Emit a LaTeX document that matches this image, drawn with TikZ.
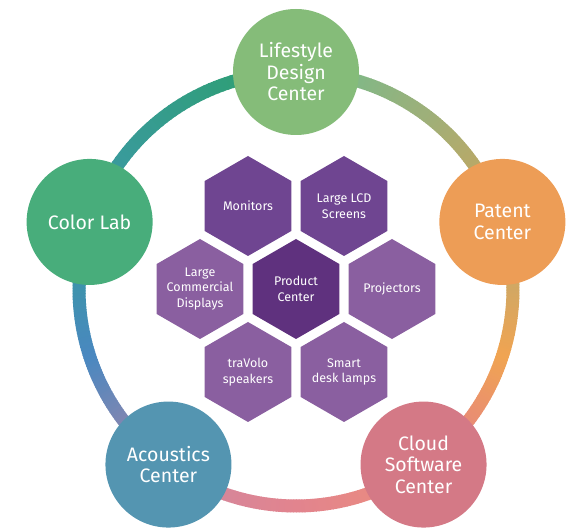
\documentclass[tikz,border=0pt]{standalone}
\usepackage{fontspec}
\setmainfont{Fira Sans}
\usepackage{tikz}
\usetikzlibrary{shapes}
\definecolor{lifegreen}{HTML}{85BC79}
\definecolor{patorange}{HTML}{ED9D56}
\definecolor{cloudpink}{HTML}{D47986}
\definecolor{acoblue}{HTML}{5495B1}
\definecolor{labgreen}{HTML}{48AD7B}
\definecolor{hexdark}{HTML}{6F4591}
\definecolor{hexcore}{HTML}{5F317E}
\definecolor{hexlight}{HTML}{8A5FA0}
% ring colours
\definecolor{rpat}{HTML}{BBA866}
\definecolor{rpatlife}{HTML}{9DB07A}
\definecolor{rlifeR}{HTML}{80B887}
\definecolor{rlifeL}{HTML}{2F9E78}
\definecolor{rlabU}{HTML}{3A9A9E}
\definecolor{rlabD}{HTML}{3C94AA}
\definecolor{rlabaco}{HTML}{4A88C0}
\definecolor{racoL}{HTML}{8486B0}
\definecolor{racoR}{HTML}{D6869A}
\definecolor{racocloud}{HTML}{E2848E}
\definecolor{rcloudL}{HTML}{E98A82}
\definecolor{rcloudU}{HTML}{E88A78}
\definecolor{rcloudpat}{HTML}{F0A452}
\definecolor{rpatD}{HTML}{CDA866}
\tikzstyle{centre}=[circle,minimum size=126pt,inner sep=0pt,text=white,align=center,font=\fontsize{19.5}{21.5}\selectfont]
\tikzstyle{hexa}=[regular polygon,regular polygon sides=6,shape border rotate=30,minimum size=100pt,inner sep=-6pt,text=white,align=center,font=\fontsize{12.5}{15.7}\selectfont]
\tikzstyle{ring}=[line width=13pt]
% colour-fading arc of the ring: start angle, end angle, colour A, colour B
\newcommand{\ringarc}[4]{%
  \foreach \k in {0,...,29}{
    \pgfmathsetmacro{\aa}{#1+(#2-#1)*\k/30}
    \pgfmathsetmacro{\bb}{#1+(#2-#1)*(\k+1.3)/30}
    \pgfmathtruncatemacro{\pc}{100*\k/29}
    \draw[ring,#4!\pc!#3] (ctr) ++(\aa:217) arc[start angle=\aa,end angle=\bb,radius=217];
  }}

\begin{document}
\begin{tikzpicture}[x=1pt,y=1pt]
        \useasboundingbox (0,0) rectangle (566,528);
        \coordinate (ctr) at (296,239);
        % ring
        \ringarc{32}{54}{rpat}{rpatlife}
        \ringarc{54}{76}{rpatlife}{rlifeR}
        \ringarc{104}{148}{rlifeL}{rlabU}
        \ringarc{176}{198}{rlabD}{rlabaco}
        \ringarc{198}{220}{rlabaco}{racoL}
        \ringarc{248}{270}{racoR}{racocloud}
        \ringarc{270}{292}{racocloud}{rcloudL}
        \ringarc{320}{342}{rcloudU}{rcloudpat}
        \ringarc{342}{364}{rcloudpat}{rpatD}
        % outer centres
        \node[centre,fill=lifegreen] (life) at ([shift={(90:217)}]ctr) {Lifestyle\\Design\\Center};
        \node[centre,fill=labgreen] (lab) at ([shift={(162:217)}]ctr) {Color Lab};
        \node[centre,fill=acoblue] (aco) at ([shift={(234:217)}]ctr) {Acoustics\\Center};
        \node[centre,fill=cloudpink] (cloud) at ([shift={(306:217)}]ctr) {Cloud\\Software\\Center};
        \node[centre,fill=patorange] (pat) at ([shift={(18:217)}]ctr) {Patent\\Center};
        % hexagons
        \node[hexa,fill=hexcore] (prod) at (296,239) {Product\\Center};
        \node[hexa,fill=hexdark] (mon) at (248,322) {Monitors};
        \node[hexa,fill=hexdark] (lcd) at (344,322) {Large LCD\\Screens};
        \node[hexa,fill=hexlight] (comm) at (200,239) {Large\\Commercial\\Displays};
        \node[hexa,fill=hexlight] (proj) at (392,239) {Projectors};
        \node[hexa,fill=hexlight] (trav) at (248,156) {traVolo\\speakers};
        \node[hexa,fill=hexlight] (lamp) at (344,156) {Smart\\desk lamps};
      \end{tikzpicture}
\end{document}
